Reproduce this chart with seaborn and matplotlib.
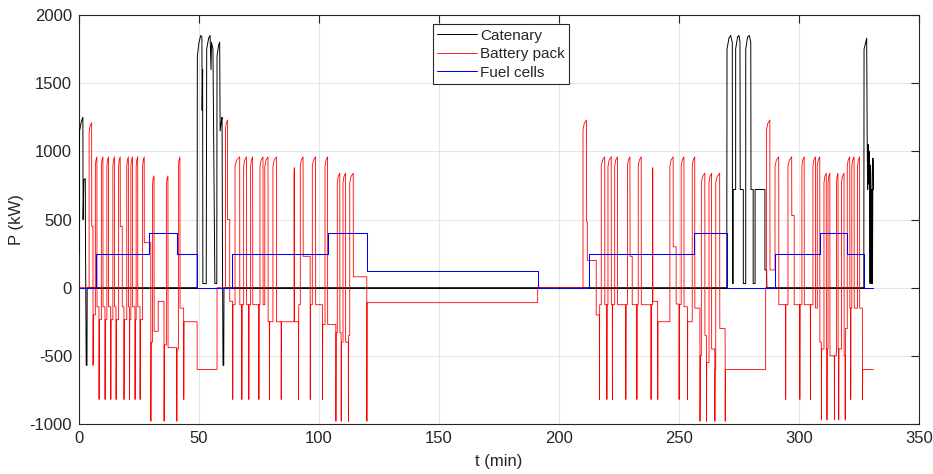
import numpy as np
import pandas as pd
import matplotlib
matplotlib.use("Agg")
import matplotlib.pyplot as plt
import seaborn as sns

# ---------------- data ----------------
# Fuel cells: step levels (level holds from each time to the next)
FC_T = [0, 7.1, 29.2, 40.7, 49.3, 63.6, 103.6, 120.1, 191.1, 212.4, 256.2, 270.1,
        290.0, 308.6, 320.1, 327.2, 331.0]
FC_P = [0, 250, 400, 250, 0, 250, 400, 120, 0, 250, 400, 0, 250, 400, 250, 0, 0]

# Catenary: breakpoints
CAT_T = [0, 0.2, 1.0, 1.6, 1.7, 2.0, 2.6, 2.7, 3.0, 3.3, 3.4,
         49.2, 49.3, 50.0, 50.7, 51.2, 51.3, 51.5, 51.6, 53.0, 53.2, 54.0, 54.6, 55.0,
         55.2, 55.8, 56.6, 57.4, 57.5, 58.2, 58.6, 58.8, 59.3, 59.6, 59.8, 60.0, 60.3, 60.4,
         269.9, 270.0, 270.8, 271.5, 272.2, 272.3, 272.6, 272.6, 273.6, 273.6, 274.4, 275.0,
         275.4, 275.5, 276.8, 276.8, 277.8, 277.8, 278.6, 279.3, 279.9, 280.0, 280.9, 280.9,
         281.7, 281.7, 285.8, 285.8, 286.5, 286.6,
         327.0, 327.1, 327.8, 328.2, 328.4, 328.6, 328.8, 329.0, 329.2, 329.4, 329.6, 329.8,
         330.0, 330.2, 330.4, 330.6, 330.8, 331.0]
CAT_P = [250, 1150, 1220, 1250, 500, 790, 800, 300, -570, -570, 0,
         0, 1700, 1800, 1850, 1840, 1300, 1600, 30, 30, 1750, 1830, 1850, 1600,
         1800, 1750, 30, 30, 1700, 1780, 1800, 1150, 1220, 1250, 100, -570, -570, 0,
         0, 1750, 1830, 1850, 1800, 30, 30, 720, 720, 1750, 1840, 1850,
         1800, 720, 720, 30, 30, 1750, 1840, 1850, 1800, 720, 720, 30,
         30, 720, 720, 130, 130, 0,
         0, 1750, 1800, 1830, 1110, 720, 1050, 760, 1000, 700, 30, 900,
         750, 30, 720, 30, 950, 720]

# Battery pack: traction peaks (rise time, peak, end time, level after)
UP_T = [4.2, 6.8, 9.3, 11.6, 14.1, 16.5, 19.9, 21.6, 23.8, 26.5, 30.6, 36.4, 41.4,
        61.0, 65.0, 68.6, 71.5, 75.4, 77.4, 80.8, 89.6, 92.2, 97.2, 102.5,
        107.6, 110.0, 112.8,
        210.0, 217.6, 220.4, 223.2, 228.5, 233.0, 239.0, 246.2, 250.9, 255.5,
        259.3, 262.5, 265.3, 286.5,
        290.0, 295.4, 301.2, 305.8, 307.6, 310.4, 312.1, 315.6, 317.7, 320.1, 322.0, 324.4]
UP_PEAK = [1210, 960, 960, 960, 960, 960, 960, 960, 960, 960, 820, 820, 960,
           1230, 960, 960, 960, 960, 960, 960, 880, 960, 960, 960,
           840, 840, 840,
           1230, 960, 960, 960, 960, 960, 880, 960, 960, 960,
           840, 840, 840, 1230,
           960, 960, 960, 960, 960, 840, 840, 840, 840, 960, 960, 960]
UP_END = [5.3, 7.5, 10.0, 12.3, 14.8, 17.2, 20.6, 22.3, 24.5, 27.2, 31.3, 37.1, 42.1,
          61.9, 67.0, 69.8, 72.4, 76.7, 78.8, 82.3, 89.75, 93.4, 98.6, 103.6,
          108.7, 111.1, 114.3,
          211.5, 219.1, 221.8, 224.4, 229.6, 234.3, 239.1, 247.6, 252.1, 256.6,
          260.8, 263.6, 267.0, 287.9,
          291.6, 297.0, 302.2, 306.9, 308.7, 311.4, 312.9, 316.3, 318.8, 321.2, 323.0, 325.3]
UP_AFTER = [450, -140, -140, -140, -140, 450, -140, -140, -140, 330, -320, -440, -150,
            500, -125, -125, -125, -125, -250, -250, -250, 230, -125, -270,
            -330, -400, 80,
            480, -125, -125, -125, 230, -125, -100, 300, -140, -150,
            -350, -450, -300, 130,
            -125, 530, -125, -150, -400, -450, -500, -450, -500, -150, -150, -150]

# Battery pack: braking troughs (time, trough, level after)
DN_T = [5.8, 8.3, 10.8, 13.2, 15.4, 18.7, 21.0, 23.3, 25.4, 29.9, 35.4, 40.7, 43.6,
        64.0, 67.8, 70.7, 74.9, 79.3, 84.2, 91.4, 96.3, 101.4,
        107.0, 109.2, 112.2, 119.9,
        216.8, 219.9, 222.2, 227.8, 232.4, 238.3, 241.1, 250.0, 253.5,
        258.7, 261.4, 264.9, 269.2,
        294.4, 300.3, 304.7, 309.3, 311.6, 314.7, 316.5, 319.2, 321.5, 326.4]
DN_VAL = [-570, -820, -820, -820, -820, -820, -820, -820, -820, -980, -980, -980, -820,
          -820, -820, -820, -820, -820, -820, -820, -820, -820,
          -980, -980, -980, -980,
          -820, -820, -820, -820, -820, -820, -820, -820, -820,
          -980, -980, -980, -980,
          -820, -820, -820, -970, -970, -970, -970, -970, -820, -820]
DN_AFTER = [-200, -235, -235, -235, -235, -235, -235, -235, -235, -400, -420, -450, -250,
            -125, -125, -125, -125, -250, -250, -125, -125, -270,
            -330, -400, -350, -110,
            -125, -125, -125, -125, -125, -125, -250, -125, -250,
            -500, -550, -600, -600,
            -125, -125, -125, -450, -450, -500, -450, -300, -150, -600]

# Battery pack: plateau changes (time, level)
LVL_T = [18.0, 33.0, 49.2, 57.5, 62.8, 191.1, 211.8, 215.5, 230.5, 248.8, 286.1, 298.0]
LVL_P = [-140, -100, -600, 0, -100, 0, 200, -200, -125, -120, 0, -125]
T_END = 331.0

# ---------------- build battery polyline ----------------
events = []
for t, pk, te, af in zip(UP_T, UP_PEAK, UP_END, UP_AFTER):
    events.append((t, "up", pk, te, af))
for t, v, af in zip(DN_T, DN_VAL, DN_AFTER):
    events.append((t, "dn", v, None, af))
for t, v in zip(LVL_T, LVL_P):
    events.append((t, "lvl", v, None, None))
events.sort(key=lambda e: e[0])

bt, bp = [0.0], [0.0]
cur = 0.0
for t, kind, v, te, af in events:
    bt.append(t); bp.append(cur)
    if kind == "up":
        d = te - t
        bt += [t, t + 0.35 * d, te - 0.05, te]
        bp += [v - 70, v - 25, v, af]
        cur = af
    elif kind == "dn":
        bt += [t + 0.05, t + 0.15]
        bp += [v, af]
        cur = af
    else:
        bt.append(t); bp.append(v)
        cur = v
bt.append(T_END); bp.append(cur)

# fuel-cell step polyline (hold each level until the next time)
ft, fp = [], []
for i, (t, p) in enumerate(zip(FC_T, FC_P)):
    if i > 0:
        ft.append(t); fp.append(FC_P[i - 1])
    ft.append(t); fp.append(p)

cat_df = pd.DataFrame({"t": CAT_T, "P": CAT_P})
batt_df = pd.DataFrame({"t": bt, "P": bp})
fc_df = pd.DataFrame({"t": ft, "P": fp})
zero_df = pd.DataFrame({"t": [0, T_END], "P": [0, 0]})

# ---------------- plotting ----------------
sns.set_theme(style="white")
plt.rcParams["font.family"] = ["Liberation Sans", "DejaVu Sans"]
plt.rcParams["axes.unicode_minus"] = False

fig = plt.figure(figsize=(9.33, 4.74), dpi=100)
ax = fig.add_axes([0.0847, 0.1055, 0.9003, 0.8628])

sns.lineplot(data=zero_df, x="t", y="P", ax=ax, color="black", lw=0.7,
             estimator=None, sort=False, zorder=3)
sns.lineplot(data=cat_df, x="t", y="P", ax=ax, color="black", lw=0.7,
             estimator=None, sort=False, label="Catenary", zorder=3)
sns.lineplot(data=batt_df, x="t", y="P", ax=ax, color="#ff0000", lw=0.6,
             estimator=None, sort=False, label="Battery pack", zorder=4)
sns.lineplot(data=fc_df, x="t", y="P", ax=ax, color="#0000ff", lw=0.75,
             estimator=None, sort=False, label="Fuel cells", zorder=5)

ax.set_xlim(0, 350)
ax.set_ylim(-1000, 2000)
ax.set_xticks(np.arange(0, 351, 50))
ax.set_yticks(np.arange(-1000, 2001, 500))
ax.grid(True, color="#e6e6e6", lw=0.8)
ax.set_axisbelow(True)
for s in ax.spines.values():
    s.set_color("#262626")
    s.set_linewidth(0.8)
ax.tick_params(direction="in", length=6, width=0.8, color="#262626",
               top=True, right=True, labelsize=12, labelcolor="#262626", pad=5)
ax.set_xlabel("t (min)", fontsize=12, color="#262626", labelpad=6)
ax.set_ylabel("P (kW)", fontsize=12, color="#262626", labelpad=4)

leg = ax.legend(loc="upper left", bbox_to_anchor=(0.421, 0.978), fontsize=11,
                frameon=True, fancybox=False, shadow=False, handlelength=2.6,
                borderpad=0.3, labelspacing=0.3, handletextpad=0.2, borderaxespad=0)
leg.get_frame().set_edgecolor("#262626")
leg.get_frame().set_linewidth(0.8)
leg.get_frame().set_alpha(1)

fig.savefig("out.png", dpi=100)
